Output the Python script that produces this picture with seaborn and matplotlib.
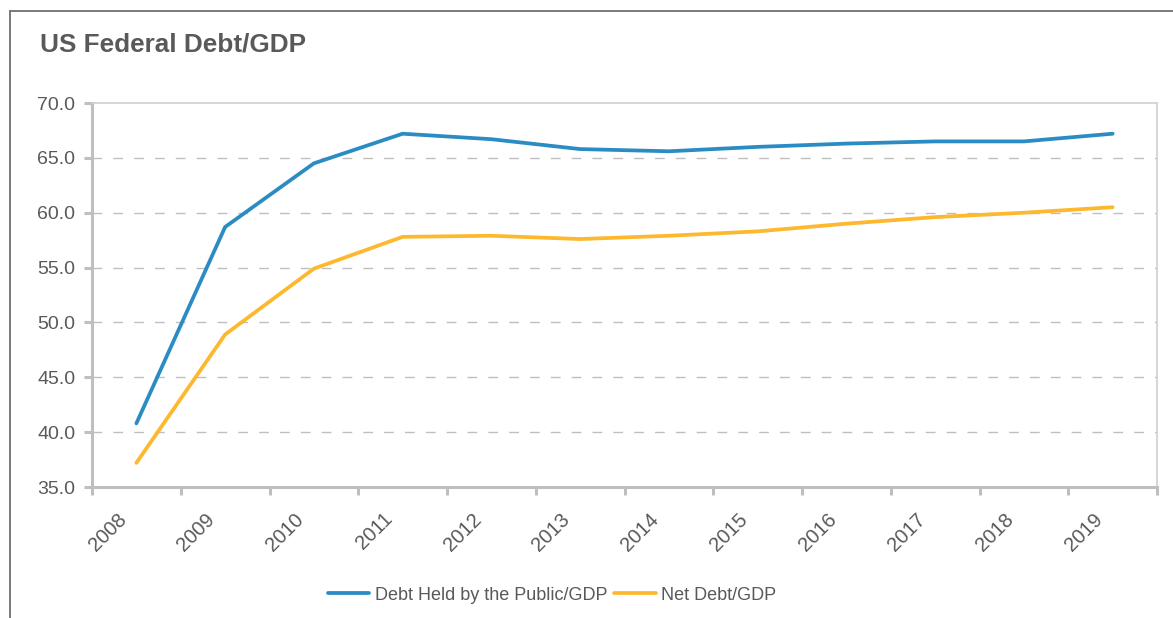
import matplotlib
matplotlib.use("Agg")
import matplotlib.pyplot as plt
import matplotlib.transforms as mtransforms
from matplotlib.lines import Line2D
import seaborn as sns
import pandas as pd
import numpy as np

# ---- data ----
years = [2008, 2009, 2010, 2011, 2012, 2013, 2014, 2015, 2016, 2017, 2018, 2019]
debt_public = [40.8, 58.7, 64.5, 67.2, 66.7, 65.8, 65.6, 66.0, 66.3, 66.5, 66.5, 67.2]
net_debt = [37.2, 48.9, 54.9, 57.8, 57.9, 57.6, 57.9, 58.3, 59.0, 59.6, 60.0, 60.5]
series_names = ["Debt Held by the Public/GDP", "Net Debt/GDP"]
y_ticks = [35.0, 40.0, 45.0, 50.0, 55.0, 60.0, 65.0, 70.0]
title = "US Federal Debt/GDP"

df = pd.DataFrame({
    "year": years * 2,
    "value": debt_public + net_debt,
    "series": [series_names[0]] * len(years) + [series_names[1]] * len(years),
})

sns.set_theme(style="white")
plt.rcParams["font.family"] = ["Liberation Sans", "DejaVu Sans"]

W, H = 1173, 618
fig = plt.figure(figsize=(W / 100, H / 100), dpi=100)
ax = fig.add_axes([92 / W, 1 - 487 / H, (1157 - 92) / W, (487 - 103) / H])

palette = {series_names[0]: "#2b8bc3", series_names[1]: "#fdb82e"}
sns.lineplot(data=df, x="year", y="value", hue="series", palette=palette,
             linewidth=2.7, ax=ax, legend=False, solid_capstyle="round")

txt_col = "#595959"
ax.set_xlim(years[0] - 0.5, years[-1] + 0.5)
ax.set_ylim(35, 70)
ax.set_xlabel("")
ax.set_ylabel("")

# y axis
ax.set_yticks(y_ticks)
ax.set_yticklabels([f"{v:.1f}" for v in y_ticks], fontsize=14, color=txt_col)
ax.tick_params(axis="y", which="major", length=6, width=2.2, color="#bfbfbf",
               pad=6, left=True)
for v in y_ticks[1:-1]:
    ax.axhline(v, color="#bfbfbf", lw=1.0, ls=(0, (7, 8)), zorder=0)

# x axis: major ticks at boundaries, labels at centers
bounds = [y - 0.5 for y in years] + [years[-1] + 0.5]
ax.set_xticks(bounds)
ax.set_xticklabels([""] * len(bounds))
ax.tick_params(axis="x", which="major", length=6, width=2.2, color="#bfbfbf",
               bottom=True)
ax.set_xticks(years, minor=True)
ax.set_xticklabels([str(y) for y in years], minor=True, fontsize=14.5,
                   color=txt_col, rotation=45, ha="right", va="center",
                   rotation_mode="anchor")
ax.tick_params(axis="x", which="minor", length=0, pad=21)
offset = mtransforms.ScaledTranslation(-13 / 100, 0, fig.dpi_scale_trans)
for lab in ax.get_xticklabels(minor=True):
    lab.set_transform(lab.get_transform() + offset)

for side in ["left", "bottom"]:
    ax.spines[side].set_color("#bfbfbf")
    ax.spines[side].set_linewidth(2.2)
for side in ["top", "right"]:
    ax.spines[side].set_color("#d0d0d0")
    ax.spines[side].set_linewidth(1.2)
ax.grid(False)

# title
fig.text(40 / W, 1 - 52 / H, title, fontsize=18.8, fontweight="bold",
         color=txt_col, va="baseline", ha="left")

# legend
handles = [Line2D([0], [0], color=palette[n], lw=2.7, solid_capstyle="round")
           for n in series_names]
leg = fig.legend(handles, series_names, loc="center", bbox_to_anchor=(552 / W, 1 - 595 / H),
                 ncol=2, frameon=False, fontsize=13, handlelength=2.3,
                 handletextpad=0.3, columnspacing=0.4)
for t in leg.get_texts():
    t.set_color(txt_col)

# outer frame (cut at right/bottom)
fig.add_artist(Line2D([10 / W, 1.0], [1 - 11 / H, 1 - 11 / H],
                      transform=fig.transFigure, color="#707070", lw=1.3))
fig.add_artist(Line2D([10 / W, 10 / W], [1 - 11 / H, 0.0],
                      transform=fig.transFigure, color="#707070", lw=1.3))

fig.savefig("out.png", dpi=100, facecolor="white")
